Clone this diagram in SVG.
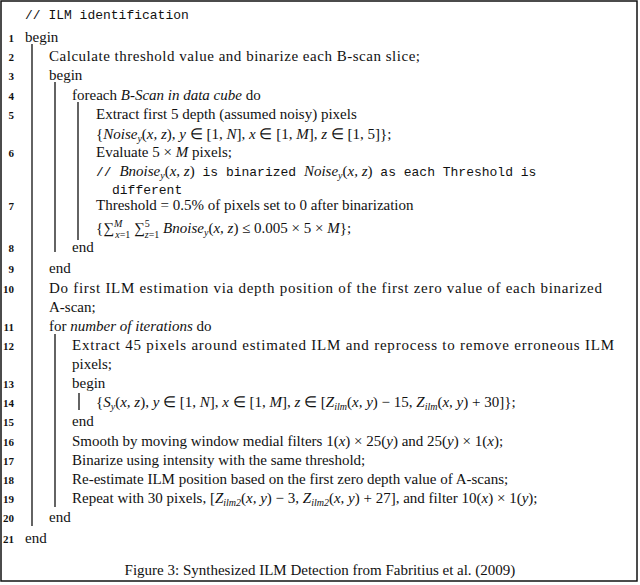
<svg xmlns="http://www.w3.org/2000/svg" width="640" height="585" viewBox="0 0 640 585">
<style>
.t{font-family:"Liberation Serif",serif;font-size:15px;fill:#111}
.m{font-family:"Liberation Mono",monospace;font-size:13px;fill:#111}
.n{font-family:"Liberation Serif",serif;font-size:11px;font-weight:bold;fill:#111;text-anchor:end}
.i{font-style:italic}
.s{font-size:10px}
.b{stroke:#222;stroke-width:1.4}
</style>
<rect x="1" y="1" width="636" height="580" fill="#fff" stroke="#111" stroke-width="1.5"/>
<g id="bars">
<line class="b" x1="32" y1="44" x2="32" y2="526" stroke-width="2"/>
<line class="b" x1="55" y1="82" x2="55" y2="252"/>
<line class="b" x1="78" y1="102" x2="78" y2="240"/>
<line class="b" x1="55" y1="334" x2="55" y2="507"/>
<line class="b" x1="79" y1="393" x2="79" y2="410"/>
</g>
<g id="numbers">
<text class="n" x="14" y="42">1</text>
<text class="n" x="14" y="61">2</text>
<text class="n" x="14" y="80">3</text>
<text class="n" x="14" y="100">4</text>
<text class="n" x="14" y="119">5</text>
<text class="n" x="14" y="157">6</text>
<text class="n" x="14" y="210">7</text>
<text class="n" x="14" y="252">8</text>
<text class="n" x="14" y="273">9</text>
<text class="n" x="14" y="293">10</text>
<text class="n" x="14" y="331">11</text>
<text class="n" x="14" y="350">12</text>
<text class="n" x="14" y="388">13</text>
<text class="n" x="14" y="407">14</text>
<text class="n" x="14" y="426">15</text>
<text class="n" x="14" y="446">16</text>
<text class="n" x="14" y="465">17</text>
<text class="n" x="14" y="484">18</text>
<text class="n" x="14" y="503">19</text>
<text class="n" x="14" y="522">20</text>
<text class="n" x="14" y="543">21</text>
</g>
<g id="lines">
<text class="m" x="25" y="19">// ILM identification</text>
<text class="t" x="25" y="42">begin</text>
<text class="t" x="49" y="61" textLength="371">Calculate threshold value and binarize each B-scan slice;</text>
<text class="t" x="49" y="80">begin</text>
<text class="t" x="72" y="100">foreach <tspan class="i">B-Scan in data cube</tspan> do</text>
<text class="t" x="96" y="119">Extract first 5 depth (assumed noisy) pixels</text>
<text class="t" x="96" y="139">{<tspan class="i">Noise</tspan><tspan class="i s" dy="3">y</tspan><tspan dy="-3">(</tspan><tspan class="i">x, z</tspan>), <tspan class="i">y</tspan> ∈ [1, <tspan class="i">N</tspan>], <tspan class="i">x</tspan> ∈ [1, <tspan class="i">M</tspan>], <tspan class="i">z</tspan> ∈ [1, 5]};</text>
<text class="t" x="96" y="157">Evaluate 5 × <tspan class="i">M</tspan> pixels;</text>
<text class="m" x="96" y="176">// <tspan class="t i">Bnoise</tspan><tspan class="t i s" dy="3">y</tspan><tspan class="t" dy="-3">(</tspan><tspan class="t i">x, z</tspan><tspan class="t">)</tspan> is binarized <tspan class="t i">Noise</tspan><tspan class="t i s" dy="3">y</tspan><tspan class="t" dy="-3">(</tspan><tspan class="t i">x, z</tspan><tspan class="t">)</tspan> as each Threshold is</text>
<text class="m" x="112" y="194">different</text>
<text class="t" x="96" y="210">Threshold = 0.5% of pixels set to 0 after binarization</text>
<text class="t" x="96" y="233">{∑<tspan class="s i" dy="-6">M</tspan><tspan class="s i" dx="-7" dy="11">x</tspan><tspan class="s">=1</tspan> <tspan dy="-5">∑</tspan><tspan class="s" dy="-6">5</tspan><tspan class="s i" dx="-5" dy="11">z</tspan><tspan class="s">=1</tspan> <tspan class="i" dy="-5">Bnoise</tspan><tspan class="i s" dy="3">y</tspan><tspan dy="-3">(</tspan><tspan class="i">x, z</tspan>) ≤ 0.005 × 5 × <tspan class="i">M</tspan>};</text>
<text class="t" x="72" y="252">end</text>
<text class="t" x="49" y="273">end</text>
<text class="t" x="49" y="293" textLength="553">Do first ILM estimation via depth position of the first zero value of each binarized</text>
<text class="t" x="49" y="312">A-scan;</text>
<text class="t" x="49" y="331">for <tspan class="i">number of iterations</tspan> do</text>
<text class="t" x="72" y="350" textLength="542">Extract 45 pixels around estimated ILM and reprocess to remove erroneous ILM</text>
<text class="t" x="72" y="369">pixels;</text>
<text class="t" x="72" y="388">begin</text>
<text class="t" x="96" y="407">{<tspan class="i">S</tspan><tspan class="i s" dy="3">y</tspan><tspan dy="-3">(</tspan><tspan class="i">x, z</tspan>), <tspan class="i">y</tspan> ∈ [1, <tspan class="i">N</tspan>], <tspan class="i">x</tspan> ∈ [1, <tspan class="i">M</tspan>], <tspan class="i">z</tspan> ∈ [<tspan class="i">Z</tspan><tspan class="i s" dy="3">ilm</tspan><tspan dy="-3">(</tspan><tspan class="i">x, y</tspan>) − 15, <tspan class="i">Z</tspan><tspan class="i s" dy="3">ilm</tspan><tspan dy="-3">(</tspan><tspan class="i">x, y</tspan>) + 30]};</text>
<text class="t" x="72" y="426">end</text>
<text class="t" x="72" y="446">Smooth by moving window medial filters 1(<tspan class="i">x</tspan>) × 25(<tspan class="i">y</tspan>) and 25(<tspan class="i">y</tspan>) × 1(<tspan class="i">x</tspan>);</text>
<text class="t" x="72" y="465">Binarize using intensity with the same threshold;</text>
<text class="t" x="72" y="484">Re-estimate ILM position based on the first zero depth value of A-scans;</text>
<text class="t" x="72" y="503">Repeat with 30 pixels, [<tspan class="i">Z</tspan><tspan class="i s" dy="3">ilm2</tspan><tspan dy="-3">(</tspan><tspan class="i">x, y</tspan>) − 3, <tspan class="i">Z</tspan><tspan class="i s" dy="3">ilm2</tspan><tspan dy="-3">(</tspan><tspan class="i">x, y</tspan>) + 27], and filter 10(<tspan class="i">x</tspan>) × 1(<tspan class="i">y</tspan>);</text>
<text class="t" x="49" y="522">end</text>
<text class="t" x="25" y="543">end</text>
<text class="t" x="320" y="575" text-anchor="middle">Figure 3: Synthesized ILM Detection from Fabritius et al. (2009)</text>
</g>
</svg>
